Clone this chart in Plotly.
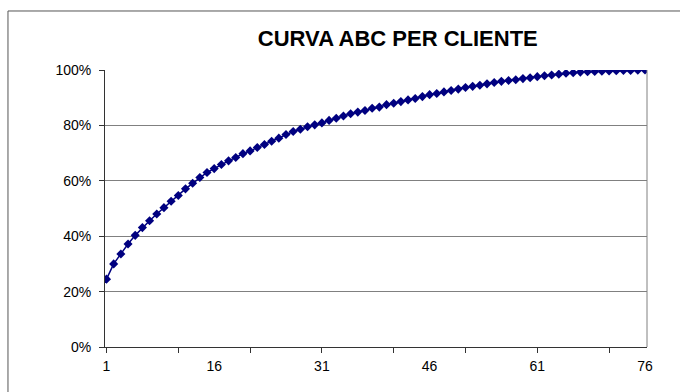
import plotly.graph_objects as go

# Cumulative share of revenue by customer rank (ABC curve)
clienti = list(range(1, 77))
cumulata = [
    24.5, 30.0, 33.6, 37.2, 40.3, 43.1, 45.6, 48.0, 50.3, 52.6,
    54.7, 57.1, 59.1, 61.2, 63.0, 64.4, 65.9, 67.2, 68.4, 69.8,
    70.8, 72.0, 73.1, 74.3, 75.4, 76.7, 77.8, 78.6, 79.5, 80.2,
    80.9, 81.8, 82.6, 83.4, 84.2, 84.8, 85.4, 86.2, 86.6, 87.5,
    88.0, 88.6, 89.2, 89.7, 90.4, 91.1, 91.5, 92.1, 92.6, 93.1,
    93.7, 94.1, 94.5, 95.0, 95.5, 95.9, 96.2, 96.5, 96.9, 97.2,
    97.6, 97.9, 98.2, 98.5, 98.8, 99.0, 99.25, 99.35, 99.45, 99.55,
    99.65, 99.72, 99.8, 99.86, 99.92, 100.0,
]
tick_marks = list(range(1, 77, 10))
tick_labels = list(range(1, 77, 15))
y_ticks = [0, 20, 40, 60, 80, 100]

NAVY = "#000080"
FONT = "Liberation Sans, Arial, sans-serif"
AXIS = "#333333"
GRID = "#808080"
x_range = [0.791, 76.28]

fig = go.Figure()
fig.add_trace(go.Scatter(
    x=clienti, y=cumulata, mode="lines+markers",
    line=dict(color=NAVY, width=1.5),
    marker=dict(symbol="diamond", size=7, color=NAVY),
    showlegend=False, hoverinfo="x+y",
))
# carrier trace for the labelled category axis
fig.add_trace(go.Scatter(x=[None], y=[None], xaxis="x2", showlegend=False,
                         hoverinfo="skip"))

fig.update_layout(
    width=680, height=392,
    margin=dict(l=105, r=33, t=70, b=45),
    paper_bgcolor="white", plot_bgcolor="white",
    font=dict(family=FONT, size=14, color="black"),
    title=dict(text="<b>CURVA ABC PER CLIENTE</b>", xref="container",
               x=0.585, xanchor="center", yref="container", y=0.902,
               yanchor="middle", font=dict(family=FONT, size=22, color="black")),
    xaxis=dict(range=x_range, tickmode="array", tickvals=tick_marks,
               showticklabels=False, ticks="outside", ticklen=5,
               tickcolor=AXIS, showgrid=False, zeroline=False,
               showline=True, linecolor=AXIS, linewidth=1,
               mirror=False),
    xaxis2=dict(range=x_range, overlaying="x", side="bottom",
                anchor="y", tickmode="array", tickvals=tick_labels,
                ticktext=[str(v) for v in tick_labels], ticks="outside",
                ticklen=6, tickcolor="rgba(0,0,0,0)", showgrid=False,
                zeroline=False, showline=False,
                tickfont=dict(family=FONT, size=14, color="black")),
    yaxis=dict(range=[0, 100], tickmode="array", tickvals=y_ticks,
               ticktext=[f"{v}%" for v in y_ticks], ticks="outside",
               ticklen=5, tickcolor=AXIS, showgrid=True,
               gridcolor=GRID, gridwidth=1, zeroline=False,
               showline=True, linecolor=AXIS, linewidth=1,
               ticklabelstandoff=5,
               tickfont=dict(family=FONT, size=14, color="black")),
    shapes=[
        # right edge of the plot area
        dict(type="line", xref="paper", yref="paper", x0=1, x1=1, y0=0, y1=1,
             line=dict(color=GRID, width=1)),
        # outer chart frame (top and left edges)
        dict(type="line", xref="paper", yref="paper", x0=-0.179, x1=1.2,
             y0=1.213, y1=1.213, line=dict(color="#555555", width=1)),
        dict(type="line", xref="paper", yref="paper", x0=-0.179, x1=-0.179,
             y0=1.213, y1=-0.2, line=dict(color="#555555", width=1)),
    ],
)

fig.write_html("out.html")
